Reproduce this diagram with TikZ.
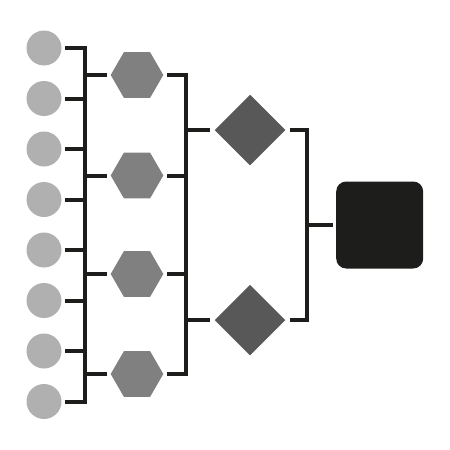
\documentclass[tikz,border=0pt]{standalone}
\usetikzlibrary{shapes.geometric}
\definecolor{lightg}{RGB}{176,176,176}
\definecolor{midg}{RGB}{128,128,128}
\definecolor{darkg}{RGB}{88,88,88}
\definecolor{ink}{RGB}{29,29,27}
\tikzset{
  leaf/.style={circle,fill=lightg,minimum size=35pt,inner sep=0pt,outer sep=3.5pt},
  hexa/.style={regular polygon,regular polygon sides=6,fill=midg,minimum size=52.6pt,inner sep=0pt,outer sep=3.5pt},
  dia/.style={diamond,fill=darkg,minimum width=73.4pt,minimum height=73.4pt,inner sep=0pt,outer sep=3.5pt},
  rootbox/.style={rectangle,rounded corners=10pt,fill=ink,minimum size=87pt,inner sep=0pt,outer sep=3.5pt},
  wire/.style={draw=ink,line width=4pt}
}
\begin{document}
\begin{tikzpicture}[x=1pt,y=-1pt]
\useasboundingbox (0,0) rectangle (450,450);
% leaves
\node[leaf] (c1) at (44,48) {};
\node[leaf] (c2) at (44,98.5) {};
\node[leaf] (c3) at (44,149) {};
\node[leaf] (c4) at (44,199.5) {};
\node[leaf] (c5) at (44,250) {};
\node[leaf] (c6) at (44,300.5) {};
\node[leaf] (c7) at (44,351) {};
\node[leaf] (c8) at (44,401.5) {};
% hexagons
\node[hexa] (h1) at (137,75) {};
\node[hexa] (h2) at (137,175.5) {};
\node[hexa] (h3) at (137,274) {};
\node[hexa] (h4) at (137,374) {};
% diamonds
\node[dia] (d1) at (250,130) {};
\node[dia] (d2) at (250,320) {};
% root
\node[rootbox] (r) at (379.7,225) {};
% spine coordinates
\coordinate (v1) at (85,0);
\coordinate (v2) at (185.7,0);
\coordinate (v3) at (307,0);
% level 1
\draw[wire] (c1.east) -| (c8.east -| v1) -- (c8.east);
\foreach \i in {2,...,7} \draw[wire] (c\i.east) -- (c\i.east -| v1);
\foreach \i in {1,...,4} \draw[wire] (v1 |- h\i.west) -- (h\i.west);
% level 2
\draw[wire] (h1.east) -| (h4.east -| v2) -- (h4.east);
\foreach \i in {2,3} \draw[wire] (h\i.east) -- (h\i.east -| v2);
\foreach \i in {1,2} \draw[wire] (v2 |- d\i.west) -- (d\i.west);
% level 3
\draw[wire] (d1.east) -| (d2.east -| v3) -- (d2.east);
\draw[wire] (v3 |- r.west) -- (r.west);
\end{tikzpicture}
\end{document}
